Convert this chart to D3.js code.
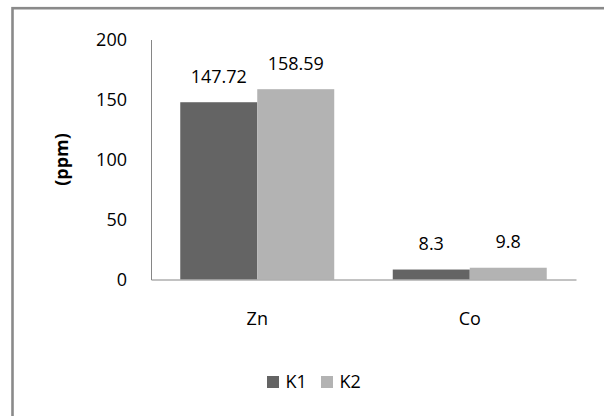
<!DOCTYPE html>
<html>
<head>
<meta charset="utf-8">
<script src="https://cdn.jsdelivr.net/npm/d3@7"></script>
<style>
  body { margin: 0; background: #fff; }
  text { font-family: "Open Sans", sans-serif; fill: #000; }
</style>
</head>
<body>
<script>
  // 차트 크기와 여백
  const width = 604;
  const height = 416;
  const margin = {top: 39.5, right: 28, bottom: 136.5, left: 151};

  // 데이터
  const elements = ["Zn", "Co"];
  const series = ["K1", "K2"];
  const k1Values = [147.72, 8.3];
  const k2Values = [158.59, 9.8];
  const yTicks = [0, 50, 100, 150, 200];
  const colors = ["#646464", "#b3b3b3"];

  const rows = elements.map((name, i) => ({name, values: [k1Values[i], k2Values[i]]}));

  const x0 = d3.scaleBand()
    .domain(elements)
    .range([margin.left, width - margin.right]);

  const x1 = d3.scaleBand()
    .domain(series)
    .range([0, x0.bandwidth()])
    .paddingInner(0)
    .paddingOuter(0.38);

  const y = d3.scaleLinear()
    .domain([0, 200])
    .range([height - margin.bottom, margin.top]);

  const color = d3.scaleOrdinal().domain(series).range(colors);

  const svg = d3.select("body").append("svg")
    .attr("width", width)
    .attr("height", height);

  svg.append("rect")
    .attr("width", width).attr("height", height)
    .attr("fill", "#fff");

  // 바깥 테두리 (오른쪽/아래는 그림 밖)
  svg.append("rect")
    .attr("x", 12.5).attr("y", 8.2)
    .attr("width", width + 20).attr("height", height + 20)
    .attr("fill", "none")
    .attr("stroke", "#8a8a8a")
    .attr("stroke-width", 2.6);

  // 막대
  const groups = svg.append("g").selectAll("g")
    .data(rows)
    .join("g")
    .attr("transform", d => `translate(${x0(d.name)},0)`);

  groups.selectAll("rect")
    .data(d => d.values.map((v, i) => ({key: series[i], value: v})))
    .join("rect")
    .attr("x", d => x1(d.key))
    .attr("y", d => y(d.value))
    .attr("width", x1.bandwidth())
    .attr("height", d => y(0) - y(d.value))
    .attr("fill", d => color(d.key));

  // 값 라벨
  groups.selectAll("text")
    .data(d => d.values.map((v, i) => ({key: series[i], value: v})))
    .join("text")
    .attr("x", d => x1(d.key) + x1.bandwidth() / 2)
    .attr("y", d => y(d.value) - 19.4)
    .attr("text-anchor", "middle")
    .attr("font-size", 18)
    .text(d => d.value);

  // y축
  svg.append("g")
    .attr("transform", `translate(${margin.left},0)`)
    .call(d3.axisLeft(y).tickValues(yTicks).tickSize(0).tickPadding(24))
    .call(g => g.select(".domain").attr("stroke", "#868686"))
    .call(g => g.selectAll("text").attr("font-size", 18).attr("font-family", "Open Sans").attr("fill", "#000"));

  // x축
  svg.append("g")
    .attr("transform", `translate(0,${y(0)})`)
    .call(d3.axisBottom(x0).tickSize(0).tickPadding(33))
    .call(g => g.select(".domain").attr("stroke", "#868686"))
    .call(g => g.selectAll("text").attr("font-size", 18).attr("font-family", "Open Sans").attr("fill", "#000"));

  // y축 제목
  svg.append("text")
    .attr("transform", `translate(61,${(y(0) + y(200)) / 2}) rotate(-90)`)
    .attr("text-anchor", "middle")
    .attr("dominant-baseline", "central")
    .attr("font-size", 18)
    .attr("font-weight", "bold")
    .text("(ppm)");

  // 범례
  const legendX = d3.scalePoint().domain(series).range([267, 321]);
  const legend = svg.append("g").selectAll("g")
    .data(series)
    .join("g")
    .attr("transform", d => `translate(${legendX(d)},376)`);

  legend.append("rect")
    .attr("width", 12).attr("height", 12)
    .attr("fill", d => color(d));

  legend.append("text")
    .attr("x", 18.5).attr("y", 12.3)
    .attr("font-size", 18)
    .text(d => d);
</script>
</body>
</html>
